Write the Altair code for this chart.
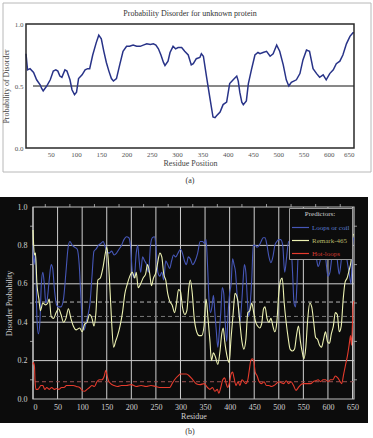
import altair as alt
import pandas as pd

SERIF = "Liberation Serif"

# ---------------- (a) single predictor profile ----------------
A_RESIDUE = [1, 4, 9, 16, 22, 29, 32, 35, 42, 49, 55, 60, 64, 68, 72, 78, 82, 88, 92, 97,
             101, 105, 112, 118, 123, 127, 133, 140, 145, 150, 155, 160, 165, 170, 174, 180, 187, 193, 200, 206,
             213, 220, 227, 233, 240, 247, 253, 258, 263, 268, 273, 276, 282, 286, 292, 297, 302, 309, 315, 322,
             328, 332, 338, 345, 348, 352, 358, 365, 371, 375, 378, 385, 391, 398, 404, 411, 418, 421, 424, 428,
             431, 437, 441, 447, 454, 460, 464, 470, 477, 484, 490, 497, 503, 510, 516, 521, 526, 536, 543, 549,
             556, 562, 569, 576, 582, 589, 595, 602, 609, 615, 622, 628, 635, 642, 648, 650]
A_PROB = [0.76, 0.63, 0.64, 0.61, 0.55, 0.51, 0.48, 0.46, 0.50, 0.55, 0.62, 0.63, 0.62, 0.58, 0.57, 0.63, 0.62, 0.55, 0.47, 0.43,
          0.45, 0.56, 0.59, 0.63, 0.64, 0.64, 0.75, 0.85, 0.91, 0.88, 0.78, 0.69, 0.62, 0.56, 0.54, 0.56, 0.68, 0.78, 0.82, 0.82,
          0.83, 0.82, 0.82, 0.83, 0.84, 0.835, 0.84, 0.83, 0.80, 0.75, 0.69, 0.665, 0.70, 0.77, 0.82, 0.80, 0.81, 0.81, 0.78, 0.75,
          0.67, 0.68, 0.72, 0.73, 0.76, 0.74, 0.58, 0.40, 0.25, 0.245, 0.26, 0.29, 0.35, 0.37, 0.52, 0.55, 0.58, 0.54, 0.45, 0.37,
          0.35, 0.38, 0.52, 0.63, 0.75, 0.77, 0.76, 0.77, 0.78, 0.74, 0.76, 0.83, 0.78, 0.67, 0.55, 0.50, 0.53, 0.55, 0.60, 0.71,
          0.79, 0.78, 0.64, 0.60, 0.57, 0.59, 0.55, 0.60, 0.63, 0.68, 0.70, 0.75, 0.84, 0.90, 0.93, 0.93]
A_CUTOFF = [0.5]
A_XTICKS = list(range(50, 651, 50))
A_YTICKS = [0.0, 0.5, 1.0]

# ---------------- (b) three predictors (residue, probability) ----------------
COIL = [(0, 0.80), (2, 0.70), (5, 0.76), (8, 0.42), (11, 0.34), (14, 0.40), (17, 0.60), (20, 0.66), (23, 0.60),
        (26, 0.50), (29, 0.52), (33, 0.62), (37, 0.70), (40, 0.68), (44, 0.56), (48, 0.49), (52, 0.48), (57, 0.48),
        (62, 0.52), (67, 0.66), (71, 0.78), (75, 0.82), (80, 0.80), (85, 0.79), (90, 0.78), (94, 0.70), (98, 0.50),
        (101, 0.38), (104, 0.36), (108, 0.40), (112, 0.44), (116, 0.50), (120, 0.64), (124, 0.77), (128, 0.78),
        (133, 0.80), (138, 0.81), (143, 0.82), (146, 0.80), (150, 0.77), (155, 0.76), (160, 0.77), (165, 0.75),
        (170, 0.76), (175, 0.78), (180, 0.80), (185, 0.83), (190, 0.845), (195, 0.84), (199, 0.78), (202, 0.66),
        (206, 0.63), (210, 0.76), (213, 0.80), (216, 0.72), (219, 0.66), (223, 0.74), (227, 0.72), (231, 0.70),
        (235, 0.66), (239, 0.80), (243, 0.84), (247, 0.845), (250, 0.80), (254, 0.66), (258, 0.64), (262, 0.66),
        (266, 0.62), (270, 0.72), (274, 0.70), (278, 0.68), (282, 0.72), (286, 0.75), (290, 0.74), (295, 0.76),
        (300, 0.78), (304, 0.76), (308, 0.72), (312, 0.70), (316, 0.74), (320, 0.73), (325, 0.70), (330, 0.72),
        (335, 0.76), (340, 0.82), (345, 0.82), (349, 0.81), (352, 0.83), (355, 0.70), (358, 0.52), (361, 0.45),
        (364, 0.48), (367, 0.54), (370, 0.45), (373, 0.35), (376, 0.27), (379, 0.35), (382, 0.45), (385, 0.58),
        (388, 0.55), (391, 0.40), (394, 0.30), (397, 0.45), (400, 0.55), (403, 0.60), (406, 0.73), (409, 0.70),
        (412, 0.66), (415, 0.55), (418, 0.48), (421, 0.40), (424, 0.48), (427, 0.60), (430, 0.70), (433, 0.66),
        (436, 0.52), (439, 0.43), (442, 0.50), (445, 0.62), (448, 0.80), (452, 0.80), (456, 0.79), (460, 0.80),
        (464, 0.82), (468, 0.84), (472, 0.84), (476, 0.80), (480, 0.74), (484, 0.71), (488, 0.74), (492, 0.80),
        (496, 0.82), (500, 0.83), (504, 0.83), (508, 0.80), (512, 0.66), (516, 0.74), (520, 0.82), (524, 0.82),
        (528, 0.66), (531, 0.50), (534, 0.48), (537, 0.60), (540, 0.78), (544, 0.82), (548, 0.84), (552, 0.83),
        (556, 0.82), (560, 0.80), (564, 0.82), (568, 0.80), (572, 0.76), (576, 0.74), (580, 0.69), (584, 0.72),
        (588, 0.78), (592, 0.82), (596, 0.72), (600, 0.64), (604, 0.66), (608, 0.74), (612, 0.82), (616, 0.80),
        (620, 0.70), (623, 0.65), (627, 0.72), (631, 0.82), (635, 0.80), (639, 0.72), (643, 0.66), (647, 0.60),
        (650, 0.80), (652, 0.84)]

REMARK = [(0, 0.88), (3, 0.75), (5, 0.76), (8, 0.60), (12, 0.52), (15, 0.46), (20, 0.50), (25, 0.49), (30, 0.50),
          (33, 0.52), (37, 0.43), (42, 0.42), (47, 0.45), (52, 0.47), (57, 0.44), (62, 0.40), (67, 0.42), (72, 0.47),
          (77, 0.42), (82, 0.38), (88, 0.36), (95, 0.37), (100, 0.35), (105, 0.39), (110, 0.40), (115, 0.44),
          (120, 0.42), (124, 0.38), (128, 0.45), (132, 0.62), (137, 0.63), (142, 0.68), (148, 0.77), (150, 0.79),
          (153, 0.73), (157, 0.55), (160, 0.40), (164, 0.27), (168, 0.30), (172, 0.33), (177, 0.38), (182, 0.45),
          (187, 0.55), (192, 0.60), (197, 0.64), (202, 0.66), (207, 0.63), (210, 0.66), (214, 0.58), (219, 0.60),
          (224, 0.63), (229, 0.65), (233, 0.70), (237, 0.66), (241, 0.59), (245, 0.63), (250, 0.66), (253, 0.70),
          (258, 0.76), (262, 0.74), (266, 0.65), (270, 0.62), (274, 0.55), (278, 0.51), (283, 0.49), (288, 0.45),
          (292, 0.50), (296, 0.57), (300, 0.56), (304, 0.48), (309, 0.44), (313, 0.46), (317, 0.58), (320, 0.62),
          (324, 0.55), (328, 0.42), (333, 0.35), (338, 0.33), (343, 0.33), (348, 0.38), (352, 0.52), (356, 0.42),
          (360, 0.30), (363, 0.20), (367, 0.24), (371, 0.22), (376, 0.18), (380, 0.24), (384, 0.34), (387, 0.37),
          (390, 0.30), (395, 0.22), (399, 0.19), (403, 0.32), (407, 0.44), (411, 0.55), (416, 0.52), (420, 0.42),
          (425, 0.30), (429, 0.26), (433, 0.31), (437, 0.45), (441, 0.46), (445, 0.50), (449, 0.45), (453, 0.40),
          (457, 0.38), (461, 0.37), (465, 0.39), (469, 0.47), (472, 0.48), (476, 0.42), (480, 0.40), (484, 0.42),
          (488, 0.38), (492, 0.35), (496, 0.40), (500, 0.55), (504, 0.62), (507, 0.63), (511, 0.50), (515, 0.40),
          (519, 0.32), (523, 0.26), (528, 0.25), (532, 0.26), (536, 0.33), (540, 0.38), (544, 0.30), (548, 0.24),
          (551, 0.21), (555, 0.27), (559, 0.42), (563, 0.50), (567, 0.48), (571, 0.40), (575, 0.32), (579, 0.31),
          (583, 0.28), (587, 0.27), (591, 0.31), (595, 0.35), (599, 0.30), (603, 0.29), (607, 0.34), (611, 0.38),
          (615, 0.45), (619, 0.44), (623, 0.35), (627, 0.38), (631, 0.52), (635, 0.61), (639, 0.63), (643, 0.67),
          (647, 0.72), (650, 0.84), (652, 0.86)]

HOTLOOPS = [(0, 0.18), (1, 0.19), (3, 0.17), (4, 0.10), (6, 0.05), (10, 0.05), (13, 0.06), (16, 0.07), (20, 0.07),
            (24, 0.05), (28, 0.06), (33, 0.05), (38, 0.06), (43, 0.05), (48, 0.055), (53, 0.05), (58, 0.06),
            (63, 0.06), (68, 0.07), (75, 0.07), (82, 0.07), (88, 0.065), (95, 0.06), (100, 0.045), (105, 0.04),
            (110, 0.05), (115, 0.06), (120, 0.07), (125, 0.065), (130, 0.09), (135, 0.10), (140, 0.10), (145, 0.12),
            (148, 0.15), (150, 0.13), (153, 0.10), (158, 0.08), (165, 0.07), (172, 0.065), (180, 0.07), (190, 0.07),
            (200, 0.075), (210, 0.065), (220, 0.07), (230, 0.065), (240, 0.07), (250, 0.065), (260, 0.06),
            (270, 0.06), (278, 0.06), (283, 0.08), (288, 0.10), (295, 0.12), (300, 0.13), (305, 0.13), (312, 0.13),
            (318, 0.12), (325, 0.10), (332, 0.08), (340, 0.075), (348, 0.08), (355, 0.06), (360, 0.05), (365, 0.06),
            (370, 0.04), (375, 0.05), (378, 0.03), (382, 0.06), (386, 0.10), (390, 0.11), (393, 0.08), (396, 0.06),
            (400, 0.09), (403, 0.13), (406, 0.14), (409, 0.11), (413, 0.07), (417, 0.09), (421, 0.07), (425, 0.10),
            (429, 0.09), (433, 0.08), (437, 0.10), (440, 0.15), (443, 0.20), (446, 0.21), (449, 0.20), (452, 0.14),
            (456, 0.12), (460, 0.09), (465, 0.08), (470, 0.09), (475, 0.07), (480, 0.07), (485, 0.065), (490, 0.07),
            (495, 0.08), (500, 0.09), (505, 0.085), (510, 0.08), (515, 0.095), (520, 0.08), (525, 0.09), (530, 0.07),
            (535, 0.045), (540, 0.06), (545, 0.075), (550, 0.08), (555, 0.08), (560, 0.08), (565, 0.08), (570, 0.09),
            (575, 0.095), (580, 0.10), (585, 0.09), (590, 0.10), (595, 0.10), (600, 0.09), (605, 0.10), (610, 0.10),
            (615, 0.12), (620, 0.11), (625, 0.09), (628, 0.08), (632, 0.13), (636, 0.18), (640, 0.23), (643, 0.28),
            (646, 0.33), (648, 0.28), (650, 0.40), (651, 0.48), (652, 0.50), (653, 0.51)]

PREDICTORS = ["Loops or coil", "Remark-465", "Hot-loops"]
PRED_COLORS = ["#4657b8", "#edf2b2", "#e53b2d"]
PRED_WIDTHS = [1.1, 1.1, 1.6]
THRESH_VALUES = [0.505, 0.43, 0.09]
THRESH_COLORS = ["#b5b5b5", "#777777", "#9a5252"]
B_XTICKS = list(range(0, 651, 50))
B_XMINOR = list(range(25, 651, 50))
B_YTICKS = [0.0, 0.2, 0.4, 0.6, 0.8, 1.0]
B_YMINOR = [0.1, 0.3, 0.5, 0.7, 0.9]
B_GRID_Y = [0.2, 0.4, 0.6, 0.8]

one_row = pd.DataFrame({"k": [0]})

# Both panels share the same plot origin in the column; panel (a) starts 7px further left,
# so its x range begins at -7 and its y axis is pushed out by the same amount.
SHIFT = 7
W, HA, HB = 321, 124, 192

# ================= panel (a) =================
xa = alt.Scale(domain=[1, 650], range=[-SHIFT, W], nice=False, zero=False)
ya = alt.Scale(domain=[0, 1], nice=False)

xa_axis = alt.Axis(
    values=A_XTICKS, title="Residue Position", grid=False, ticks=False, domain=False,
    labelFont=SERIF, labelFontSize=7, labelColor="#555", labelPadding=2,
    titleFont=SERIF, titleFontSize=8, titleFontWeight="normal", titleColor="#444", titlePadding=2, zindex=1)
ya_axis = alt.Axis(
    values=A_YTICKS, format=".1f", title="Probability of Disorder", grid=False, ticks=False, domain=False,
    offset=SHIFT, labelFont=SERIF, labelFontSize=7, labelColor="#555", labelPadding=3,
    titleFont=SERIF, titleFontSize=8, titleFontWeight="normal", titleColor="#444", titlePadding=4, zindex=1)

df_a = pd.DataFrame({"residue": A_RESIDUE, "prob": A_PROB})

a_spacer = alt.Chart(one_row).mark_rect(opacity=0).encode(
    x=alt.value(-33), x2=alt.value(340), y=alt.value(-24), y2=alt.value(173))
a_box = alt.Chart(one_row).mark_rect(filled=False, stroke="#b8b8b8", strokeWidth=1).encode(
    x=alt.value(-30), x2=alt.value(338), y=alt.value(-21), y2=alt.value(148))
a_title = alt.Chart(one_row).mark_text(
    text="Probability Disorder for unknown protein", font=SERIF, fontSize=8, color="#333"
).encode(x=alt.value(157), y=alt.value(-10))
a_caption = alt.Chart(one_row).mark_text(text="(a)", font=SERIF, fontSize=8, color="#333").encode(
    x=alt.value(157), y=alt.value(157))

a_line = alt.Chart(df_a).mark_line(color="#283388", strokeWidth=1.5).encode(
    x=alt.X("residue:Q", scale=xa, axis=xa_axis),
    y=alt.Y("prob:Q", scale=ya, axis=ya_axis),
)
a_rule = alt.Chart(pd.DataFrame({"prob": A_CUTOFF})).mark_rule(color="#111", strokeWidth=1).encode(
    y=alt.Y("prob:Q", scale=ya, axis=ya_axis))
a_frame = alt.Chart(one_row).mark_rect(filled=False, stroke="#2a2a2a", strokeWidth=1.5).encode(
    x=alt.value(-SHIFT), x2=alt.value(W), y=alt.value(0), y2=alt.value(HA))

panel_a = alt.layer(a_spacer, a_box, a_title, a_rule, a_line, a_frame, a_caption).properties(
    width=W, height=HA)

# ================= panel (b) =================
xb = alt.Scale(domain=[0, 653], nice=False, zero=False)
yb = alt.Scale(domain=[0, 1], nice=False)

AXIS_GREY = "#d0d0d0"
xb_axis = alt.Axis(
    values=B_XTICKS, title="Residue", grid=False, ticks=False, domain=False,
    labelFont=SERIF, labelFontSize=8, labelColor=AXIS_GREY, labelPadding=4,
    titleFont=SERIF, titleFontSize=8, titleFontWeight="normal", titleColor=AXIS_GREY, titlePadding=1, zindex=1)
yb_axis = alt.Axis(
    values=B_YTICKS, format=".1f", title="Disorder Probability", grid=False, ticks=False, domain=False,
    labelFont=SERIF, labelFontSize=8, labelColor=AXIS_GREY, labelPadding=6,
    titleFont=SERIF, titleFontSize=8, titleFontWeight="normal", titleColor=AXIS_GREY, titlePadding=4, zindex=1)

rows = []
for name, series in zip(PREDICTORS, [COIL, REMARK, HOTLOOPS]):
    for r, p in series:
        rows.append({"residue": r, "prob": p, "predictor": name})
df_b = pd.DataFrame(rows)

b_bg = alt.Chart(one_row).mark_rect(color="#0c0c0c").encode(
    x=alt.value(-33), x2=alt.value(335), y=alt.value(-10), y2=alt.value(216))
b_vgrid = alt.Chart(pd.DataFrame({"residue": B_XTICKS})).mark_rule(color="#cfcfcf", strokeWidth=1).encode(
    x=alt.X("residue:Q", scale=xb, axis=xb_axis))
b_hgrid = alt.Chart(pd.DataFrame({"prob": B_GRID_Y})).mark_rule(color="#cfcfcf", strokeWidth=1).encode(
    y=alt.Y("prob:Q", scale=yb, axis=yb_axis))

# small outward minor ticks along the top, left and right edges of the frame
b_top_ticks = alt.Chart(pd.DataFrame({"residue": B_XMINOR})).mark_tick(
    orient="vertical", size=3, thickness=1, color="#cfcfcf").encode(
    x=alt.X("residue:Q", scale=xb, axis=xb_axis), y=alt.value(-1.5))
b_left_ticks = alt.Chart(pd.DataFrame({"prob": B_YMINOR})).mark_tick(
    orient="horizontal", size=3, thickness=1, color="#cfcfcf").encode(
    y=alt.Y("prob:Q", scale=yb, axis=yb_axis), x=alt.value(-1.5))
b_right_ticks = alt.Chart(pd.DataFrame({"prob": B_YMINOR})).mark_tick(
    orient="horizontal", size=3, thickness=1, color="#cfcfcf").encode(
    y=alt.Y("prob:Q", scale=yb, axis=yb_axis), x=alt.value(W + 1.5))

b_thresh = alt.Chart(pd.DataFrame({"prob": THRESH_VALUES, "col": THRESH_COLORS})).mark_rule(
    strokeDash=[4, 3], strokeWidth=1).encode(
    y=alt.Y("prob:Q", scale=yb, axis=yb_axis), color=alt.Color("col:N", scale=None))
b_frame = alt.Chart(one_row).mark_rect(filled=False, stroke="#bdbdbd", strokeWidth=1.2).encode(
    x=alt.value(0), x2=alt.value(W), y=alt.value(0), y2=alt.value(HB))

label_color_expr = ("datum.label === 'Hot-loops' ? '#d43b30' : "
                    "(datum.label === 'Remark-465' ? '#b8b86a' : '#5b7fd6')")

b_lines = alt.Chart(df_b).mark_line(interpolate="monotone").encode(
    x=alt.X("residue:Q", scale=xb, axis=xb_axis),
    y=alt.Y("prob:Q", scale=yb, axis=yb_axis),
    strokeWidth=alt.StrokeWidth("predictor:N", scale=alt.Scale(domain=PREDICTORS, range=PRED_WIDTHS),
                                legend=None),
    color=alt.Color("predictor:N", sort=PREDICTORS,
                    scale=alt.Scale(domain=PREDICTORS, range=PRED_COLORS),
                    legend=alt.Legend(
                        title="Predictors:", orient="none", legendX=256, legendY=1, direction="vertical",
                        fillColor="#0c0c0c", strokeColor="#9a9a9a", padding=2,
                        titleFont=SERIF, titleFontSize=7, titleFontWeight="normal", titleColor=AXIS_GREY,
                        titleAnchor="middle", titlePadding=1,
                        labelFont=SERIF, labelFontSize=7, labelColor=alt.ExprRef(expr=label_color_expr),
                        labelOffset=2, symbolType="stroke", symbolSize=289, symbolStrokeWidth=1.2,
                        rowPadding=0)),
)
b_caption = alt.Chart(one_row).mark_text(text="(b)", font=SERIF, fontSize=8, color="#333").encode(
    x=alt.value(157), y=alt.value(225))

panel_b = alt.layer(b_bg, b_vgrid, b_hgrid, b_top_ticks, b_left_ticks, b_right_ticks,
                    b_thresh, b_frame, b_lines, b_caption).properties(width=W, height=HB)

chart = alt.vconcat(panel_a, panel_b, spacing=0).resolve_legend(color="independent").properties(
    padding=0, background="white"
).configure_view(strokeWidth=0)

chart.save("out.html", embed_options={"renderer": "svg", "actions": False})
